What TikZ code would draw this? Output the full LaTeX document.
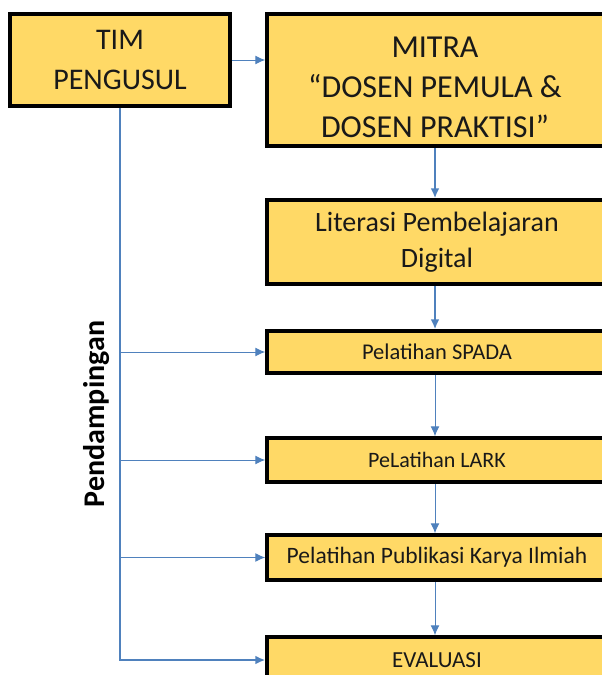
\documentclass[tikz,border=0pt]{standalone}
\usepackage{fontspec}
\setmainfont{Carlito}
\usetikzlibrary{arrows.meta}
\definecolor{boxfill}{HTML}{FFD966}
\definecolor{linkblue}{HTML}{4F81BD}
\tikzset{
  box/.style={draw=black, line width=3.5pt, fill=boxfill, inner sep=0pt, align=center, text=black!90},
  link/.style={draw=linkblue, line width=1pt, -{Latex[length=10pt,width=9pt]}},
  heavy/.style={link, line width=2pt},
}
\begin{document}
\begin{tikzpicture}[x=1pt,y=-1pt]
  \useasboundingbox (0,0) rectangle (602,675);
  \clip (0,0) rectangle (602,675);
  % boxes
  \node[box, minimum width=220, minimum height=92, font=\fontsize{30}{40}\selectfont] (tim) at (120,60) {TIM\\PENGUSUL};
  \node[box, minimum width=340, minimum height=132] (mitra) at (437,80) {};
  \node[align=center, text=black!90, font=\fontsize{32}{40}\selectfont] (mitratext) at (435,87) {MITRA\\“DOSEN PEMULA \&\\DOSEN PRAKTISI”};
  \node[box, minimum width=340, minimum height=84, font=\fontsize{28}{36}\selectfont] (lit) at (437,242) {Literasi Pembelajaran\\Digital};
  \node[box, minimum width=340, minimum height=42, font=\fontsize{22.5}{26}\selectfont] (spada) at (437,352) {Pelatihan SPADA};
  \node[box, minimum width=340, minimum height=44, font=\fontsize{22}{26}\selectfont] (lark) at (437,460) {PeLatihan LARK};
  \node[box, minimum width=340, minimum height=45, font=\fontsize{23.5}{26}\selectfont] (publ) at (437,557.5) {Pelatihan Publikasi Karya Ilmiah};
  \node[box, minimum width=340, minimum height=46, font=\fontsize{23}{26}\selectfont] (eval) at (437,660) {EVALUASI};
  \node[rotate=90, font=\bfseries\fontsize{30}{34}\selectfont] (lbl) at (97,414) {Pendampingan};
  \coordinate (col) at (435,0);
  % arrows
  \draw[link] (tim.east) -- (tim.east -| mitra.west);
  \draw[heavy] (mitra.south -| col) -- (lit.north -| col);
  \draw[heavy] (lit.south -| col) -- (spada.north -| col);
  \draw[link] (spada.south -| col) -- (lark.north -| col);
  \draw[link] (lark.south -| col) -- (publ.north -| col);
  \draw[link] (publ.south -| col) -- (eval.north -| col);
  \draw[heavy] (tim.south) |- (eval.west);
  \foreach \n in {spada,lark,publ}{\draw[link] (tim.south |- \n.west) -- (\n.west);}
\end{tikzpicture}
\end{document}
